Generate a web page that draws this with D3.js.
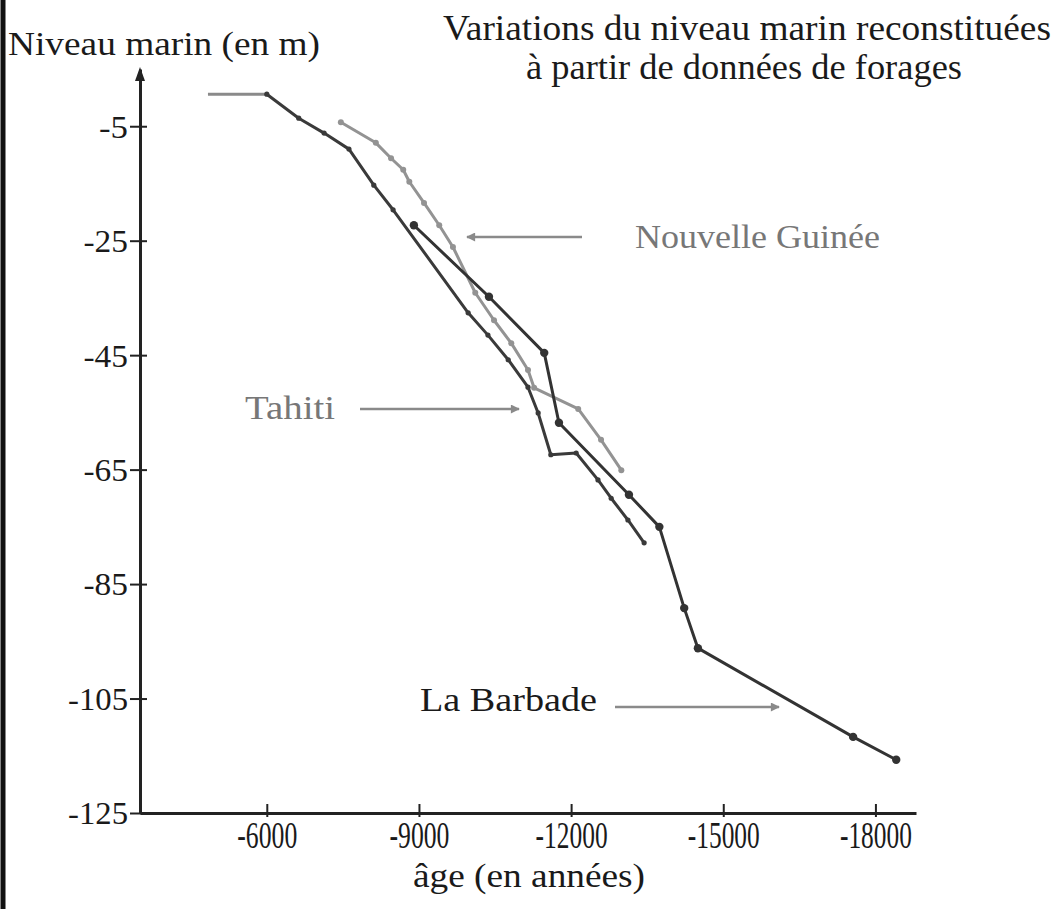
<!DOCTYPE html>
<html>
<head>
<meta charset="utf-8">
<script src="https://cdn.jsdelivr.net/npm/d3@7"></script>
<style>
  body { margin: 0; background: #fff; }
  svg text { font-family: "Liberation Serif", "DejaVu Serif", "Times New Roman", serif !important; }
</style>
</head>
<body>
<div id="chart"></div>
<script>
// Data
// ================================
var yTicks = [-5, -25, -45, -65, -85, -105, -125];
var xTicks = [-6000, -9000, -12000, -15000, -18000];

// flat part before the Tahiti curve
var plateauAge = [-4840, -6000];
var plateauLevel = [0.6, 0.6];

var tahitiAge = [-6000, -6630, -7130, -7620, -8110, -8490, -9970, -10360, -10760, -11150, -11350, -11600, -12100, -12530, -12790, -13120, -13440];
var tahitiLevel = [0.6, -3.6, -6.2, -9.0, -15.3, -19.6, -37.6, -41.5, -45.8, -50.6, -55.1, -62.4, -62.1, -66.8, -70.0, -73.8, -77.8];

var barbadeAge = [-8900, -10380, -11470, -11760, -13140, -13740, -14230, -14500, -17560, -18410];
var barbadeLevel = [-22.3, -34.8, -44.6, -56.8, -69.4, -75.0, -89.2, -96.2, -111.7, -115.7];

var guineeAge = [-7460, -8150, -8450, -8690, -8810, -9100, -9400, -9670, -10110, -10480, -10820, -11150, -11270, -12140, -12590, -12990];
var guineeLevel = [-4.3, -7.9, -10.6, -12.6, -14.7, -18.4, -22.3, -26.1, -34.1, -38.9, -42.9, -47.6, -50.7, -54.4, -59.8, -65.1];

// Step 1: Set up our chart
//= ================================
var svgWidth = 1061;
var svgHeight = 909;
var serif = "'Liberation Serif', 'DejaVu Serif', serif";

var svg = d3.select("#chart")
  .append("svg")
  .attr("width", svgWidth)
  .attr("height", svgHeight);

svg.append("rect")
  .attr("width", svgWidth)
  .attr("height", svgHeight)
  .attr("fill", "#fff");

// black bar on the left edge
svg.append("line")
  .attr("x1", 3).attr("x2", 3)
  .attr("y1", 0).attr("y2", svgHeight)
  .attr("stroke", "#111")
  .attr("stroke-width", 5);

var defs = svg.append("defs");
defs.append("marker")
  .attr("id", "arrowGray")
  .attr("viewBox", "0 0 10 10")
  .attr("refX", 9).attr("refY", 5)
  .attr("markerWidth", 14).attr("markerHeight", 9)
  .attr("markerUnits", "userSpaceOnUse")
  .attr("orient", "auto")
  .append("path")
  .attr("d", "M0,0 L10,5 L0,10 Z")
  .attr("fill", "#8a8a8a");

// Step 2: Create scale functions
// ==============================
var xScale = d3.scaleLinear()
  .domain([-3500, -18800])
  .range([140, 916]);

var yScale = d3.scaleLinear()
  .domain([5, -125])
  .range([69, 813]);

// Step 3: Axes
// ==============================
var leftAxis = d3.axisLeft(yScale)
  .tickValues(yTicks)
  .tickSizeOuter(0)
  .tickFormat(d => String(d));

var bottomAxis = d3.axisBottom(xScale)
  .tickValues(xTicks)
  .tickSizeOuter(0)
  .tickFormat(d => String(d));

var yAxisG = svg.append("g")
  .attr("transform", "translate(140, 0)")
  .call(leftAxis)
  .attr("font-family", serif);

yAxisG.select(".domain")
  .attr("stroke", "#222")
  .attr("stroke-width", 3);
yAxisG.selectAll(".tick line")
  .attr("x1", -10).attr("x2", 7)
  .attr("stroke", "#222")
  .attr("stroke-width", 2);
yAxisG.selectAll(".tick text")
  .attr("x", -12)
  .attr("dy", "0.34em")
  .attr("fill", "#1a1a1a")
  .attr("textLength", d => String(d).length * 15.5 - 2)
  .attr("lengthAdjust", "spacingAndGlyphs")
  .style("font-size", "32px");

// arrow tip on top of the y axis
svg.append("path")
  .attr("d", `M140,${yScale(5) - 2} l-5,14 l10,0 Z`)
  .attr("fill", "#222");

var xAxisG = svg.append("g")
  .attr("transform", `translate(0, ${yScale(-125)})`)
  .call(bottomAxis)
  .attr("font-family", serif);

xAxisG.select(".domain")
  .attr("stroke", "#222")
  .attr("stroke-width", 3);
xAxisG.selectAll(".tick line")
  .attr("y1", -9).attr("y2", 4)
  .attr("stroke", "#222")
  .attr("stroke-width", 2);
// tall, narrow tick labels
xAxisG.selectAll(".tick text")
  .attr("y", 27)
  .attr("dy", 0)
  .attr("transform", "scale(1, 1.3)")
  .attr("fill", "#1a1a1a")
  .attr("textLength", d => String(d).length * 12)
  .attr("lengthAdjust", "spacingAndGlyphs")
  .style("font-size", "29px");

// Step 4: Lines
// ==============================
function toPoints(ages, levels) {
  return ages.map((a, i) => [a, levels[i]]);
}

var line = d3.line()
  .x(d => xScale(d[0]))
  .y(d => yScale(d[1]));

var series = [
  { pts: toPoints(plateauAge, plateauLevel), color: "#8a8a8a", r: 0 },
  { pts: toPoints(guineeAge, guineeLevel), color: "#939393", r: 3 },
  { pts: toPoints(tahitiAge, tahitiLevel), color: "#3a3a3a", r: 2.6 },
  { pts: toPoints(barbadeAge, barbadeLevel), color: "#333", r: 4.2 }
];

series.forEach(function(s) {
  svg.append("path")
    .datum(s.pts)
    .attr("d", line)
    .attr("fill", "none")
    .attr("stroke", s.color)
    .attr("stroke-width", 3)
    .attr("stroke-linejoin", "round");

  if (s.r > 0) {
    svg.selectAll(null)
      .data(s.pts)
      .enter()
      .append("circle")
      .attr("cx", d => xScale(d[0]))
      .attr("cy", d => yScale(d[1]))
      .attr("r", s.r)
      .attr("fill", s.color);
  }
});

// Step 5: Texts and pointers
// ==============================
var texts = [
  { text: "Niveau marin (en m)", x: 8, y: 55, len: 312, size: 34, anchor: "start", color: "#1a1a1a" },
  { text: "Variations du niveau marin reconstituées", x: 747, y: 40, len: 608, size: 35, anchor: "middle", color: "#1a1a1a" },
  { text: "à partir de données de forages", x: 744, y: 79, len: 436, size: 35, anchor: "middle", color: "#1a1a1a" },
  { text: "âge (en années)", x: 529, y: 887, len: 232, size: 34, anchor: "middle", color: "#1a1a1a" },
  { text: "Nouvelle Guinée", x: 635, y: 248, len: 245, size: 34, anchor: "start", color: "#777" },
  { text: "Tahiti", x: 245, y: 419, len: 90, size: 34, anchor: "start", color: "#777" },
  { text: "La Barbade", x: 420, y: 711, len: 177, size: 34, anchor: "start", color: "#1a1a1a" }
];
texts.forEach(function(t) {
  svg.append("text")
    .attr("x", t.x).attr("y", t.y)
    .attr("text-anchor", t.anchor)
    .attr("fill", t.color)
    .attr("textLength", t.len)
    .attr("lengthAdjust", "spacingAndGlyphs")
    .style("font-family", serif)
    .style("font-size", t.size + "px")
    .text(t.text);
});

var pointers = [
  [582, 237, 467, 237],
  [360, 409, 519, 409],
  [615, 707, 779, 707]
];
pointers.forEach(function(p) {
  svg.append("line")
    .attr("x1", p[0]).attr("y1", p[1])
    .attr("x2", p[2]).attr("y2", p[3])
    .attr("stroke", "#8a8a8a")
    .attr("stroke-width", 2.5)
    .attr("marker-end", "url(#arrowGray)");
});
</script>
</body>
</html>
